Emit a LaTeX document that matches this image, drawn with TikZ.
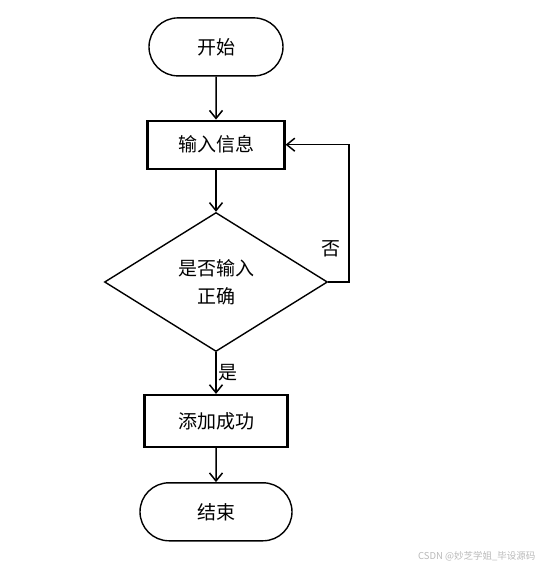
\documentclass[tikz,border=0pt]{standalone}
\usepackage{fontspec}
\newfontfamily\cjk{Noto Sans CJK SC}
\usetikzlibrary{arrows.meta,shapes.geometric,shapes.misc}

\begin{document}
\begin{tikzpicture}[x=1pt,y=1pt,font=\cjk\fontsize{19}{28}\selectfont]
\tikzstyle{decision} = [diamond, draw=black, line width=1.4pt, fill=white,
align=center, aspect=1.6, inner sep=0pt, minimum width=223pt, minimum height=139pt]

\tikzstyle{block} = [rectangle, draw=black, line width=2.2pt, fill=white,
align=center, minimum width=137pt, minimum height=48pt]
\tikzstyle{terminal} = [rounded rectangle, draw=black, line width=1.4pt, fill=white,
align=center, minimum width=134pt, minimum height=58pt]
\tikzstyle{line} = [draw, line width=1.5pt, -{Straight Barb[length=8pt,width=13pt]}];
\useasboundingbox (0,0) rectangle (541,567);
\matrix (chart) [row sep=44pt, inner sep=0pt] at (216,550) [anchor=north]
{
% row 1
\node [terminal] (start) {开始}; \\[-1pt]
% row 2
\node [block] (input) {输入信息}; \\[-2pt]
% row 3
\node [decision] (check) {是否输入\\正确}; \\[-2pt]
% row 4
\node [block, minimum width=143pt, minimum height=52pt] (add) {添加成功}; \\[-10pt]
% row 5
\node [terminal, minimum width=152pt] (stop) {结束}; \\
};
\node [anchor=east, text=gray!55, font=\cjk\fontsize{9.5}{11}\selectfont] (mark) at (539,11) {CSDN @妙芝学姐\_毕设源码};
\tikzstyle{every path}=[line]
\path (start) -- (input);
\path (input) -- (check);
\path (check) -- node [right, inner sep=2pt] {是} (add);
\path (add) -- (stop);

\path (check.east) -- ++(21,0) |- node [pos=0.12, left=5pt] {否} (input.east);

\end{tikzpicture}
\end{document}
